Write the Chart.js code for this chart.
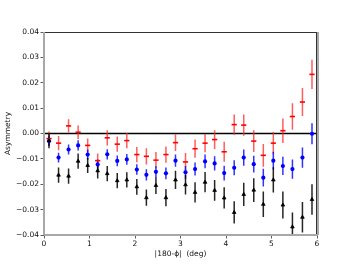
<!DOCTYPE html>
<html>
<head>
<meta charset="utf-8">
<script src="https://cdn.jsdelivr.net/npm/chart.js@4"></script>
<style>
    html, body { margin: 0; padding: 0; background: #fff; }
    #wrap { width: 352px; height: 264px; }
</style>
</head>
<body>
<div id="wrap"><canvas id="asymChart" width="352" height="264"></canvas></div>
<script>
// ===== Data =====

var xVals = [0.11, 0.32, 0.54, 0.75, 0.96, 1.18, 1.39, 1.61, 1.82, 2.04, 2.25, 2.46, 2.68, 2.89,
             3.11, 3.32, 3.54, 3.75, 3.96, 4.18, 4.39, 4.61, 4.82, 5.04, 5.25, 5.46, 5.68, 5.89];

var redY = [-0.0020, -0.0038, 0.0030, 0.0005, -0.0047, -0.0107, -0.0017, -0.0042, -0.0028, -0.0083,
            -0.0090, -0.0105, -0.0083, -0.0036, -0.0112, -0.0060, -0.0038, -0.0024, -0.0072, 0.0035,
            0.0033, -0.0030, -0.0086, -0.0038, 0.0011, 0.0067, 0.0124, 0.0233];
var redErr = [0.0028, 0.0028, 0.0026, 0.0027, 0.0027, 0.0028, 0.0030, 0.0030, 0.0030, 0.0030,
              0.0032, 0.0032, 0.0032, 0.0033, 0.0035, 0.0036, 0.0036, 0.0037, 0.0039, 0.0040,
              0.0042, 0.0043, 0.0045, 0.0044, 0.0048, 0.0052, 0.0055, 0.0058];

var blueY = [-0.0030, -0.0095, -0.0063, -0.0047, -0.0083, -0.0122, -0.0082, -0.0108, -0.0102, -0.0142,
             -0.0163, -0.0151, -0.0157, -0.0107, -0.0153, -0.0140, -0.0110, -0.0118, -0.0156, -0.0135,
             -0.0095, -0.0121, -0.0174, -0.0107, -0.0128, -0.0140, -0.0095, -0.0001];
var blueErr = [0.0019, 0.0019, 0.0020, 0.0020, 0.0020, 0.0020, 0.0020, 0.0021, 0.0021, 0.0021,
               0.0022, 0.0022, 0.0023, 0.0024, 0.0025, 0.0026, 0.0027, 0.0028, 0.0029, 0.0030,
               0.0032, 0.0033, 0.0035, 0.0035, 0.0036, 0.0038, 0.0040, 0.0041];

var blackY = [-0.0028, -0.0164, -0.0168, -0.0109, -0.0126, -0.0147, -0.0158, -0.0186, -0.0183, -0.0210,
              -0.0253, -0.0205, -0.0253, -0.0183, -0.0202, -0.0232, -0.0192, -0.0224, -0.0254, -0.0311,
              -0.0240, -0.0223, -0.0279, -0.0183, -0.0282, -0.0368, -0.0330, -0.0260];
var blackErr = [0.0030, 0.0030, 0.0030, 0.0030, 0.0030, 0.0030, 0.0030, 0.0030, 0.0030, 0.0031,
                0.0032, 0.0033, 0.0034, 0.0036, 0.0038, 0.0040, 0.0040, 0.0041, 0.0042, 0.0044,
                0.0046, 0.0047, 0.0050, 0.0050, 0.0053, 0.0057, 0.0060, 0.0060];

var xTicks = [0, 1, 2, 3, 4, 5, 6];
var yTicks = [-0.04, -0.03, -0.02, -0.01, 0.00, 0.01, 0.02, 0.03, 0.04];

var FONT = 'DejaVu Sans';

function toPoints(ys) {
    var pts = [];
    for (var i = 0; i < xVals.length; i++) pts.push({ x: xVals[i], y: ys[i] });
    return pts;
}

// ===== Error bars, zero line and frame =====

var series = [
    { y: redY, err: redErr, color: 'rgba(255, 40, 40, 0.75)' },
    { y: blueY, err: blueErr, color: 'rgba(0, 0, 255, 0.8)' },
    { y: blackY, err: blackErr, color: 'rgba(0, 0, 0, 0.85)' }
];

var errorBarPlugin = {
    id: 'errorBars',
    beforeDatasetsDraw: function(chart) {
        var ctx = chart.ctx, xs = chart.scales.x, ys = chart.scales.y, a = chart.chartArea;
        ctx.save();
        ctx.beginPath();
        ctx.rect(a.left, a.top, a.right - a.left, a.bottom - a.top);
        ctx.clip();

        // zero line
        ctx.strokeStyle = '#000';
        ctx.lineWidth = 1.3;
        ctx.beginPath();
        ctx.moveTo(a.left, ys.getPixelForValue(0));
        ctx.lineTo(a.right, ys.getPixelForValue(0));
        ctx.stroke();

        ctx.lineWidth = 1.5;
        for (var s = 0; s < series.length; s++) {
            ctx.strokeStyle = series[s].color;
            ctx.beginPath();
            for (var i = 0; i < xVals.length; i++) {
                var px = xs.getPixelForValue(xVals[i]);
                ctx.moveTo(px, ys.getPixelForValue(series[s].y[i] + series[s].err[i]));
                ctx.lineTo(px, ys.getPixelForValue(series[s].y[i] - series[s].err[i]));
            }
            ctx.stroke();
        }
        ctx.restore();
    },
    afterDraw: function(chart) {
        var ctx = chart.ctx, a = chart.chartArea;
        ctx.save();
        ctx.strokeStyle = '#333';
        ctx.lineWidth = 1;
        ctx.beginPath();
        ctx.moveTo(a.left, a.top + 0.5);
        ctx.lineTo(a.right, a.top + 0.5);
        ctx.moveTo(a.right - 0.5, a.top);
        ctx.lineTo(a.right - 0.5, a.bottom);
        ctx.stroke();
        ctx.strokeStyle = '#a8a8a8';
        ctx.lineWidth = 2;
        ctx.beginPath();
        ctx.moveTo(a.left, a.top);
        ctx.lineTo(a.left, a.bottom);
        ctx.moveTo(a.left, a.bottom);
        ctx.lineTo(a.right + 1, a.bottom);
        ctx.moveTo(a.right + 1, a.top);
        ctx.lineTo(a.right + 1, a.bottom);
        ctx.stroke();
        ctx.restore();
    }
};

// ===== Chart =====

new Chart(document.getElementById('asymChart'), {
    type: 'scatter',
    data: {
        datasets: [
            {
                label: 'black',
                data: toPoints(blackY),
                order: 0,
                pointStyle: 'triangle',
                pointRadius: 2.1,
                backgroundColor: '#000',
                borderColor: '#000',
                borderWidth: 0.8
            },
            {
                label: 'blue',
                data: toPoints(blueY),
                order: 1,
                pointStyle: 'circle',
                pointRadius: 2.1,
                backgroundColor: '#0000ff',
                borderColor: '#0000ff',
                borderWidth: 0
            },
            {
                label: 'red',
                data: toPoints(redY),
                order: 2,
                pointStyle: 'line',
                pointRadius: 2.6,
                backgroundColor: '#ff0000',
                borderColor: '#ff0000',
                borderWidth: 1.6
            }
        ]
    },
    options: {
        responsive: false,
        animation: false,
        devicePixelRatio: 1,
        layout: { padding: { top: 32, right: 35, left: 0, bottom: 0 } },
        plugins: { legend: { display: false }, tooltip: { enabled: false } },
        scales: {
            x: {
                type: 'linear',
                min: 0,
                max: 6,
                afterBuildTicks: function(scale) {
                    scale.ticks = xTicks.map(function(v) { return { value: v }; });
                },
                ticks: {
                    color: '#111',
                    font: { family: FONT, size: 7.5 },
                    padding: 1.5,
                    maxRotation: 0,
                    callback: function(v) { return String(v); }
                },
                grid: { drawOnChartArea: false, tickLength: 3.5, tickColor: '#333', tickWidth: 0.8 },
                border: { display: false },
                title: {
                    display: true,
                    text: '|180-\u03d5|  (deg)',
                    color: '#111',
                    font: { family: FONT, size: 7.5 },
                    padding: { top: 0, bottom: 5.5 }
                },
                afterFit: function(scale) { scale.height = 29; }
            },
            y: {
                type: 'linear',
                min: -0.04,
                max: 0.04,
                afterBuildTicks: function(scale) {
                    scale.ticks = yTicks.map(function(v) { return { value: v }; });
                },
                ticks: {
                    color: '#111',
                    font: { family: FONT, size: 7.5 },
                    padding: 1.5,
                    callback: function(v) { return v.toFixed(2).replace('-', '\u2212'); }
                },
                grid: { drawOnChartArea: false, tickLength: 3.5, tickColor: '#333', tickWidth: 0.8 },
                border: { display: false },
                title: {
                    display: true,
                    text: 'Asymmetry',
                    color: '#111',
                    font: { family: FONT, size: 7.5 },
                    padding: { top: 4, bottom: 0 }
                },
                afterFit: function(scale) { scale.width = 44; }
            }
        }
    },
    plugins: [errorBarPlugin]
});
</script>
</body>
</html>
